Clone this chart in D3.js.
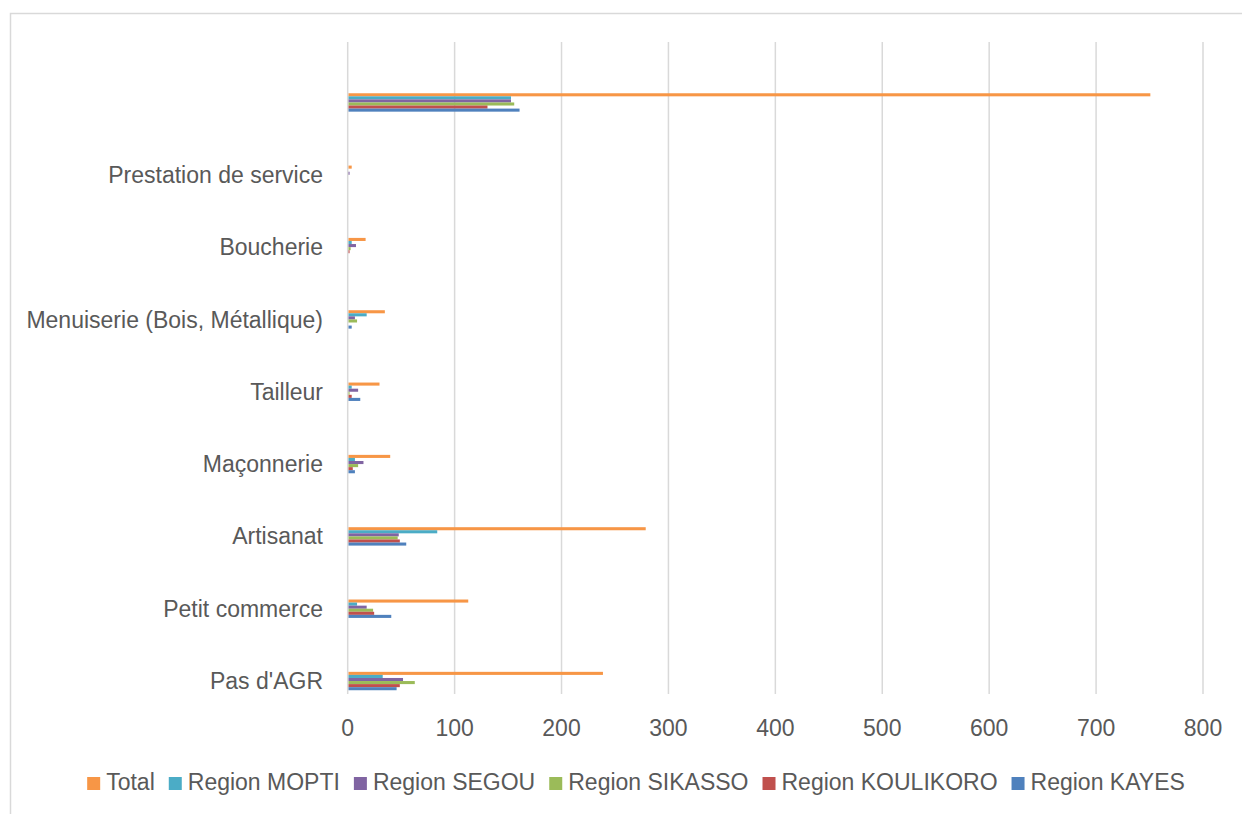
<!DOCTYPE html>
<html><head><meta charset="utf-8">
<script src="https://cdn.jsdelivr.net/npm/d3@7"></script>
<style>body{margin:0;background:#fff}svg{display:block}text{font-family:"Liberation Sans",Arial,sans-serif;fill:#595959}</style>
</head><body>
<svg id="c" width="1242" height="814"></svg>
<script>
const categories = ["Pas d'AGR","Petit commerce","Artisanat","Maçonnerie","Tailleur","Menuiserie (Bois, Métallique)","Boucherie","Prestation de service",""];
const seriesNames = ["Total","Region MOPTI","Region SEGOU","Region SIKASSO","Region KOULIKORO","Region KAYES"];
const seriesColors = ["#F79646","#4BACC6","#8064A2","#9BBB59","#C0504D","#4F81BD"];
const total     = [238,112,278,39,29,34,16,3,750];
const mopti     = [32,8,83,6,3,17,3,0,152];
const segou     = [51,17,47,14,9,6,7,1,152];
const sikasso   = [62,23,46,9,1,8,2,0,155];
const koulikoro = [48,24,48,4,3,0,1,0,130];
const kayes     = [45,40,54,6,11,3,0,0,160];
const xTicks = [0,100,200,300,400,500,600,700,800];
const seriesValues = [total,mopti,segou,sikasso,koulikoro,kayes];

const svg = d3.select("#c");
svg.append("rect").attr("x",10.5).attr("y",13.5).attr("width",1240).attr("height",810)
  .attr("fill","none").attr("stroke","#D9D9D9").attr("stroke-width",1.5);

const x = d3.scaleLinear().domain([0,800]).range([347.7,1203]);
const y = d3.scaleBand().domain(categories).range([717.2,66.3]).padding(0);
const inner = d3.scaleBand().domain(seriesNames).range([-9.2,9.2]).padding(0);

// gridlines
svg.append("g").selectAll("line").data(xTicks).join("line")
  .attr("x1",d=>x(d)).attr("x2",d=>x(d)).attr("y1",42).attr("y2",694)
  .attr("stroke","#D9D9D9").attr("stroke-width",1.5);

// tick labels
svg.append("g").selectAll("text").data(xTicks).join("text")
  .attr("x",d=>x(d)).attr("y",736).attr("text-anchor","middle")
  .attr("font-size",23).text(d=>d);

// bars
seriesNames.forEach((s,si)=>{
  svg.append("g").selectAll("rect").data(categories).join("rect")
    .attr("x",x(0)+0.8)
    .attr("y",c=>y(c)+y.bandwidth()/2+inner(s))
    .attr("height",inner.bandwidth())
    .attr("width",(c,i)=>Math.max(0,x(seriesValues[si][i])-x(0)))
    .attr("fill",seriesColors[si]);
});

// category labels
svg.append("g").selectAll("text").data(categories).join("text")
  .attr("x",323).attr("y",c=>y(c)+y.bandwidth()/2+2)
  .attr("dominant-baseline","middle").attr("text-anchor","end")
  .attr("font-size",23).text(c=>c);

// legend
const lg = svg.append("g");
let lx = 0;
seriesNames.forEach((s,i)=>{
  const g = lg.append("g");
  g.append("rect").attr("x",0).attr("y",-7).attr("width",13).attr("height",13).attr("fill",seriesColors[i]);
  const t = g.append("text").attr("x",19).attr("y",0).attr("dominant-baseline","middle").attr("font-size",23).text(s);
  const w = t.node().getComputedTextLength();
  g.attr("transform",`translate(${lx},784)`);
  lx += 19 + w + 14;
});
const totalW = lx - 14;
lg.attr("transform",`translate(${636 - totalW/2},0)`);
</script>
</body></html>
